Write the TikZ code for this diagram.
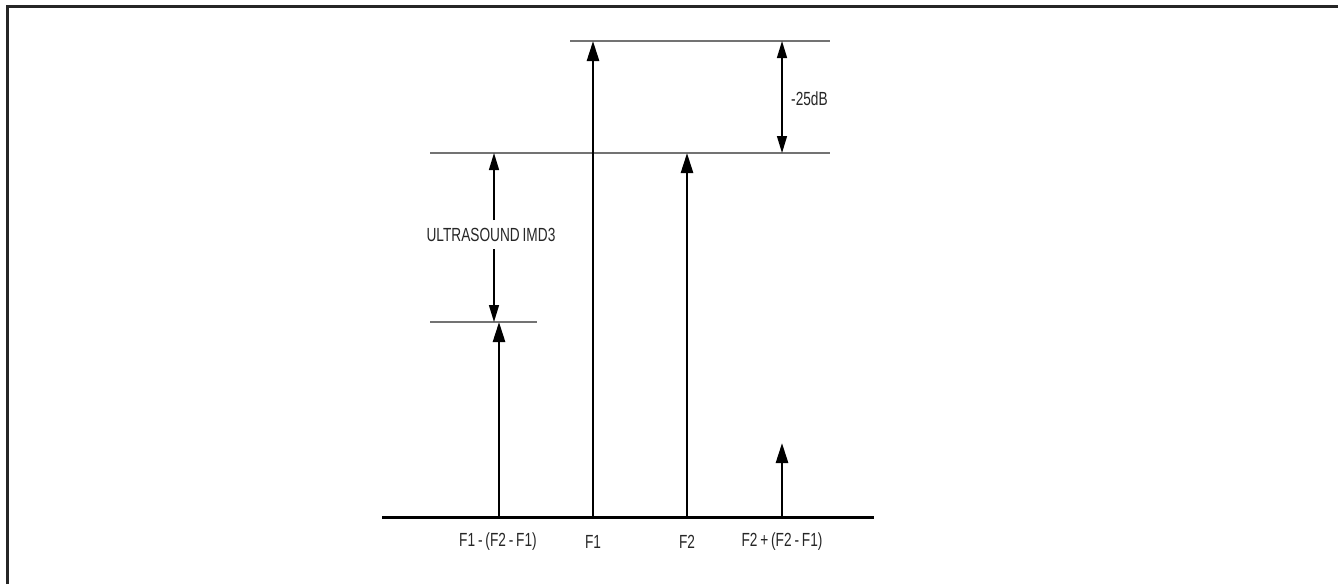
\documentclass[tikz,border=0pt]{standalone}
\usepackage{fontspec}
\setmainfont{Liberation Sans}[FakeStretch=0.72,WordSpace=0.75]
\usetikzlibrary{arrows.meta}
\begin{document}
\begin{tikzpicture}[x=1pt,y=-1pt,
  frame/.style={line width=3pt,draw=black!85},
  axis/.style={line width=3pt},
  spike/.style={line width=2.6pt,-{Triangle[length=20pt,width=12pt]}},
  ref/.style={line width=1.6pt,draw=black!55},
  dim/.style={line width=1.4pt,{Triangle[length=17pt,width=10pt]}-{Triangle[length=17pt,width=10pt]}},
  halfdim/.style={line width=1.4pt,-{Triangle[length=17pt,width=10pt]}},
  lbl/.style={font=\fontsize{19}{22}\selectfont,text=black!85,inner sep=0pt}]
\useasboundingbox (0,0) rectangle (1338,584);
% frame (top and left edges)
\coordinate (fl) at (7,584);
\coordinate (ftl) at (7,6);
\coordinate (ftr) at (1338,6);
\draw[frame] (fl) -- (ftl) -- (ftr);
% axis
\coordinate (a0) at (382,517);
\coordinate (a1) at (874,517);
\draw[axis] (a0) -- (a1);
% reference lines
\coordinate (r1a) at (570,41); \coordinate (r1b) at (830,41);
\coordinate (r2a) at (430,153); \coordinate (r2b) at (830,153);
\coordinate (r3a) at (430,322); \coordinate (r3b) at (537,322);
\draw[ref] (r1a) -- (r1b);
\draw[ref] (r2a) -- (r2b);
\draw[ref] (r3a) -- (r3b);
% spikes
\coordinate (s1b) at (499,517); \coordinate (s1t) at (499,322);
\coordinate (s2b) at (593,517); \coordinate (s2t) at (593,41);
\coordinate (s3b) at (687,517); \coordinate (s3t) at (687,153);
\coordinate (s4b) at (782,517); \coordinate (s4t) at (782,443);
\draw[spike] (s1b) -- (s1t);
\draw[spike] (s2b) -- (s2t);
\draw[spike] (s3b) -- (s3t);
\draw[spike] (s4b) -- (s4t);
% -25dB dimension
\coordinate (d1t) at (782,41); \coordinate (d1b) at (782,153);
\draw[dim] (d1t) -- (d1b);
\node[lbl,anchor=west] (db) at (791,99) {-25dB};
% ultrasound IMD3 dimension
\node[lbl] (imd) at (491,235) {ULTRASOUND IMD3};
\coordinate (d2t) at (494,153); \coordinate (d2b) at (494,322);
\coordinate (d2m1) at (494,220); \coordinate (d2m2) at (494,249);
\draw[halfdim] (d2m1) -- (d2t);
\draw[halfdim] (d2m2) -- (d2b);
% axis labels
\node[lbl] (l1) at (498,542) {F1 - (F2 - F1)};
\node[lbl] (l2) at (593,542) {F1};
\node[lbl] (l3) at (687,542) {F2};
\node[lbl] (l4) at (782,542) {F2 + (F2 - F1)};
\end{tikzpicture}
\end{document}
